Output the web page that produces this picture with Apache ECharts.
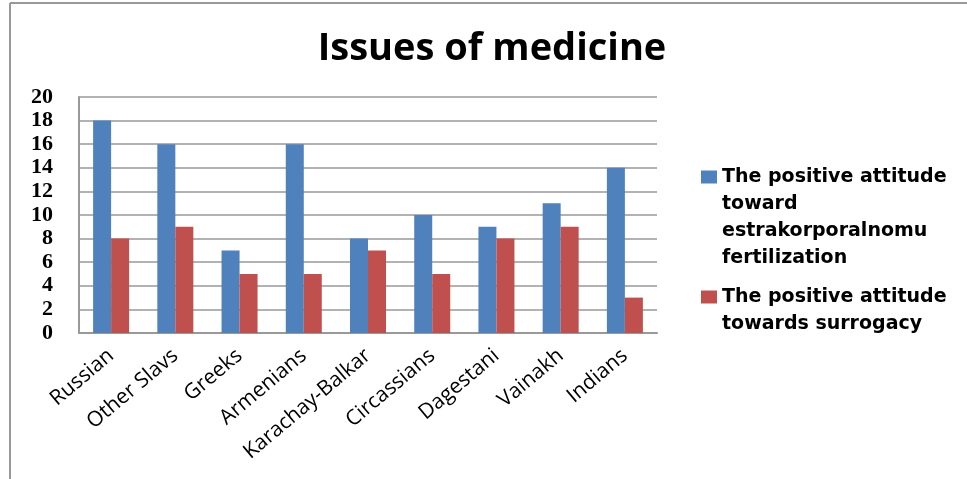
<!DOCTYPE html>
<html>
<head>
<meta charset="utf-8">
<script src="https://cdn.jsdelivr.net/npm/echarts@6/dist/echarts.min.js"></script>
<style>html,body{margin:0;padding:0;background:#fff}#c{width:967px;height:479px}</style>
</head>
<body>
<div id="c"></div>
<script>
var categories = ['Russian','Other Slavs','Greeks','Armenians','Karachay-Balkar','Circassians','Dagestani','Vainakh','Indians'];
var ivfValues = [18,16,7,16,8,10,9,11,14];
var surrogacyValues = [8,9,5,5,7,5,8,9,3];
var seriesNames = ['The positive attitude toward estrakorporalnomu fertilization','The positive attitude towards surrogacy'];
var legendLines = [
  ['The positive attitude','toward','estrakorporalnomu','fertilization'],
  ['The positive attitude','towards surrogacy']
];
var yMin = 0, yMax = 20, yStep = 2;

var chart = echarts.init(document.getElementById('c'));
var LH = 27;
function legendFor(i, centerY) {
  var n = legendLines[i].length;
  var half = (2 * n - 1) * LH / 2;
  var pre = '';
  for (var k = 1; k < n; k++) pre += ' \n';
  return {
    orient: 'vertical',
    left: 701,
    top: centerY - half,
    padding: 0,
    itemWidth: 16,
    itemHeight: 13,
    icon: 'rect',
    data: [seriesNames[i]],
    formatter: function () { return pre + legendLines[i].join('\n'); },
    textStyle: {
      fontFamily: 'DejaVu Sans',
      fontWeight: 'bold',
      fontSize: 19,
      lineHeight: LH,
      color: '#000'
    }
  };
}

chart.setOption({
  animation: false,
  backgroundColor: '#fff',
  title: {
    text: 'Issues of medicine',
    left: 487,
    textAlign: 'center',
    top: 25,
    textStyle: { fontFamily: 'Open Sans', fontWeight: 'bold', fontSize: 38, color: '#000' }
  },
  legend: [legendFor(0, 177), legendFor(1, 297)],
  grid: { left: 79, right: 310, top: 97, bottom: 146, containLabel: false },
  xAxis: {
    type: 'category',
    data: categories,
    axisLine: { show: true, lineStyle: { color: '#999', width: 2 } },
    axisTick: { show: false },
    axisLabel: {
      interval: 0, rotate: 40, margin: 20,
      fontFamily: 'Open Sans', fontSize: 21, color: '#000'
    }
  },
  yAxis: {
    type: 'value',
    min: yMin, max: yMax, interval: yStep,
    axisLine: { show: true, lineStyle: { color: '#999', width: 2 } },
    axisTick: { show: false },
    splitLine: { show: true, lineStyle: { color: '#999', width: 1.5 } },
    axisLabel: {
      margin: 26,
      fontFamily: 'Liberation Serif', fontWeight: 'bold', fontSize: 22, color: '#000'
    }
  },
  series: [
    { name: seriesNames[0], type: 'bar', data: ivfValues, barWidth: 18, barGap: '0%', itemStyle: { color: '#4F81BD' } },
    { name: seriesNames[1], type: 'bar', data: surrogacyValues, barWidth: 18, barGap: '0%', itemStyle: { color: '#C0504D' } }
  ],
  graphic: [
    { type: 'line', shape: { x1: 10, y1: 3, x2: 967, y2: 3 }, style: { stroke: '#999', lineWidth: 2 } },
    { type: 'line', shape: { x1: 10, y1: 3, x2: 10, y2: 479 }, style: { stroke: '#999', lineWidth: 2 } }
  ]
});
</script>
</body>
</html>
